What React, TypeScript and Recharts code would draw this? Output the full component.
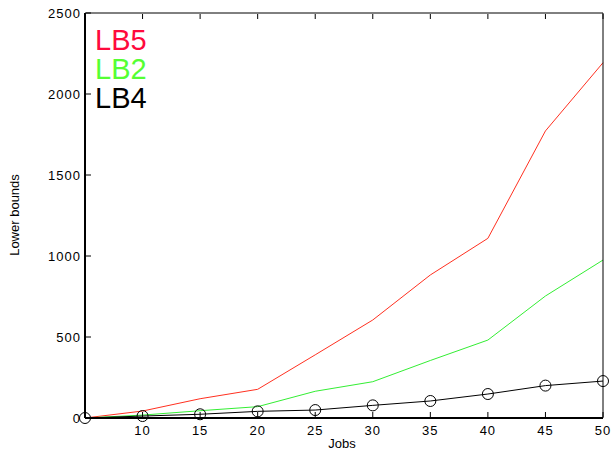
import { LineChart, Line, XAxis, YAxis } from "recharts";

const jobs = [5, 10, 15, 20, 25, 30, 35, 40, 45, 50];
const lb5 = [0, 43, 119, 177, 390, 605, 883, 1109, 1772, 2193];
const lb2 = [0, 18, 45, 70, 165, 224, 355, 481, 753, 975];
const lb4 = [0, 12, 23, 41, 49, 78, 105, 148, 200, 228];

const xTicks = [10, 15, 20, 25, 30, 35, 40, 45, 50];
const yTicks = [0, 500, 1000, 1500, 2000, 2500];

const data = jobs.map((j, i) => ({ jobs: j, lb5: lb5[i], lb2: lb2[i], lb4: lb4[i] }));

const FONT = "'Liberation Sans', Arial, sans-serif";

const BottomTick = (props: any) => {
    const { x, y, payload } = props;
    return (
        <g>
            <line x1={x} y1={y - 1} x2={x} y2={y - 6} stroke="#000" strokeWidth={1} />
            <text x={x} y={y + 17} textAnchor="middle" fontSize={13} fontFamily={FONT} letterSpacing={1} fill="#000">
                {payload.value}
            </text>
        </g>
    );
};

const TopTick = (props: any) => {
    const { x, y } = props;
    return <line x1={x} y1={y + 1} x2={x} y2={y + 6} stroke="#000" strokeWidth={1} />;
};

const LeftTick = (props: any) => {
    const { x, y, payload } = props;
    return (
        <g>
            <line x1={x + 1} y1={y} x2={x + 6} y2={y} stroke="#000" strokeWidth={1} />
            <text x={x - 4} y={y + 5} textAnchor="end" fontSize={13} fontFamily={FONT} letterSpacing={1} fill="#000">
                {payload.value}
            </text>
        </g>
    );
};

const RightTick = (props: any) => {
    const { x, y } = props;
    return <line x1={x - 1} y1={y} x2={x - 6} y2={y} stroke="#000" strokeWidth={1} />;
};

const legend = [
    { name: "LB5", color: "#ff0a3c" },
    { name: "LB2", color: "#55ff33" },
    { name: "LB4", color: "#000000" },
];

export default function App() {
    return (
        <div style={{ position: "absolute", left: 0, top: 0, width: 612, height: 452, background: "#fff", fontFamily: FONT }}>
            <LineChart width={612} height={452} data={data} margin={{ top: 12, right: 8, left: 84, bottom: 33 }}>
                <XAxis
                    dataKey="jobs"
                    type="number"
                    domain={[5, 50]}
                    ticks={xTicks}
                    height={1}
                    tickSize={0}
                    tickMargin={0}
                    tick={<BottomTick />}
                    axisLine={{ stroke: "#000", strokeWidth: 2 }}
                    tickLine={false}
                />
                <XAxis
                    xAxisId="top"
                    orientation="top"
                    dataKey="jobs"
                    type="number"
                    domain={[5, 50]}
                    ticks={xTicks}
                    height={1}
                    tickSize={0}
                    tickMargin={0}
                    tick={<TopTick />}
                    axisLine={{ stroke: "#000", strokeWidth: 1 }}
                    tickLine={false}
                />
                <YAxis
                    type="number"
                    domain={[0, 2500]}
                    ticks={yTicks}
                    width={1}
                    tickSize={0}
                    tickMargin={0}
                    tick={<LeftTick />}
                    axisLine={{ stroke: "#000", strokeWidth: 2 }}
                    tickLine={false}
                />
                <YAxis
                    yAxisId="right"
                    orientation="right"
                    type="number"
                    domain={[0, 2500]}
                    ticks={yTicks}
                    width={1}
                    tickSize={0}
                    tickMargin={0}
                    tick={<RightTick />}
                    axisLine={{ stroke: "#000", strokeWidth: 1 }}
                    tickLine={false}
                />
                <Line dataKey="lb5" stroke="#ff3020" strokeWidth={1} dot={false} isAnimationActive={false} />
                <Line dataKey="lb2" stroke="#33ee33" strokeWidth={1} dot={false} isAnimationActive={false} />
                <Line
                    dataKey="lb4"
                    stroke="#000"
                    strokeWidth={1}
                    dot={{ r: 5.5, stroke: "#000", strokeWidth: 1, fill: "none" }}
                    isAnimationActive={false}
                />
            </LineChart>
            <div style={{ position: "absolute", left: 95, top: 26, fontSize: 29, lineHeight: "29px" }}>
                {legend.map((l) => (
                    <div key={l.name} style={{ color: l.color }}>
                        {l.name}
                    </div>
                ))}
            </div>
            <div style={{ position: "absolute", left: 0, top: 436, width: 684, textAlign: "center", fontSize: 13 }}>
                Jobs
            </div>
            <div
                style={{
                    position: "absolute",
                    left: 14,
                    top: 215,
                    fontSize: 13,
                    whiteSpace: "nowrap",
                    transform: "translate(-50%, -50%) rotate(-90deg)",
                }}
            >
                Lower bounds
            </div>
        </div>
    );
}
